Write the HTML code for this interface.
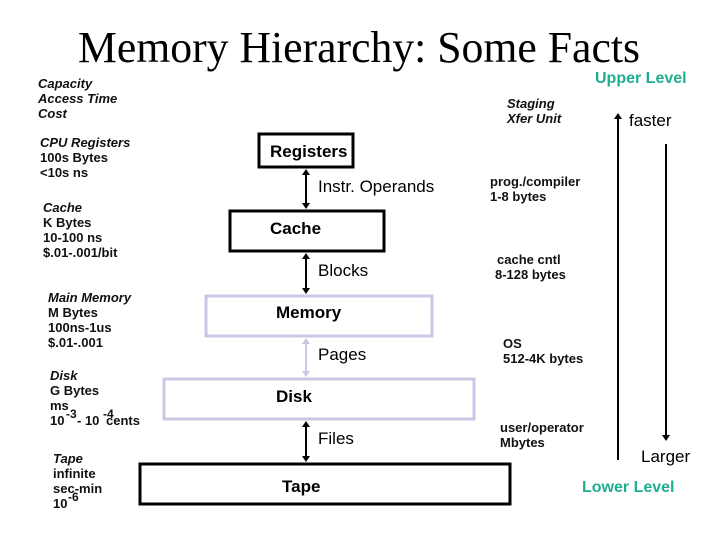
<!DOCTYPE html>
<html><head><meta charset="utf-8"><style>
html,body{margin:0;padding:0;background:#fff}
svg{display:block}
text{font-family:"Liberation Sans",sans-serif}
.s{font-size:13px;font-weight:bold;fill:#111}
.i{font-style:italic}
.b{font-size:17px;font-weight:bold}
.m{font-size:17px}
.g{fill:#20ae90;font-size:16px;font-weight:bold}
</style></head><body>
<svg width="720" height="540" viewBox="0 0 720 540" xmlns="http://www.w3.org/2000/svg">
<defs>
<marker id="a" markerWidth="6" markerHeight="8" refX="3" refY="4" orient="auto-start-reverse" markerUnits="userSpaceOnUse"><path d="M0,0 L6,4 L0,8z" fill="#000"/></marker>
<marker id="al" markerWidth="6" markerHeight="8" refX="3" refY="4" orient="auto-start-reverse" markerUnits="userSpaceOnUse"><path d="M0,0 L6,4 L0,8z" fill="#c8c8e6"/></marker>
</defs>
<text x="78" y="62" font-family="Liberation Serif,serif" font-size="44" textLength="562" lengthAdjust="spacingAndGlyphs" style="font-family:'Liberation Serif',serif">Memory Hierarchy: Some Facts</text>
<text x="595" y="83" class="g">Upper Level</text>
<text x="582" y="492" class="g">Lower Level</text>

<g class="s i"><text x="38" y="88">Capacity</text><text x="38" y="103">Access Time</text><text x="38" y="118">Cost</text></g>
<g class="s"><text x="40" y="147" font-style="italic">CPU Registers</text><text x="40" y="162">100s Bytes</text><text x="40" y="177">&lt;10s ns</text></g>
<g class="s"><text x="43" y="212" font-style="italic">Cache</text><text x="43" y="227">K Bytes</text><text x="43" y="242">10-100 ns</text><text x="43" y="257">$.01-.001/bit</text></g>
<g class="s"><text x="48" y="302" font-style="italic">Main Memory</text><text x="48" y="317">M Bytes</text><text x="48" y="332">100ns-1us</text><text x="48" y="347">$.01-.001</text></g>
<g class="s"><text x="50" y="380" font-style="italic">Disk</text><text x="50" y="395">G Bytes</text><text x="50" y="410">ms</text><text x="50" y="425">10</text><text x="66" y="418" font-size="12">-3</text><text x="77" y="425">- 10</text><text x="103" y="418" font-size="12">-4</text><text x="106" y="425">cents</text></g>
<g class="s"><text x="53" y="463" font-style="italic">Tape</text><text x="53" y="478">infinite</text><text x="53" y="493">sec-min</text><text x="53" y="508">10</text><text x="68" y="501" font-size="12">-6</text></g>

<g class="s i"><text x="507" y="108">Staging</text><text x="507" y="123">Xfer Unit</text></g>
<text x="629" y="126" class="m">faster</text>
<text x="641" y="462" class="m">Larger</text>
<g class="s"><text x="490" y="186">prog./compiler</text><text x="490" y="201">1-8 bytes</text>
<text x="497" y="264">cache cntl</text><text x="495" y="279">8-128 bytes</text>
<text x="503" y="348">OS</text><text x="503" y="363">512-4K bytes</text>
<text x="500" y="432">user/operator</text><text x="500" y="447">Mbytes</text></g>

<line x1="618" y1="460" x2="618" y2="116" stroke="#000" stroke-width="2" marker-end="url(#a)"/>
<line x1="666" y1="144" x2="666" y2="438" stroke="#000" stroke-width="2" marker-end="url(#a)"/>

<rect x="259" y="134" width="94" height="33" fill="none" stroke="#000" stroke-width="3"/>
<text x="270" y="157" class="b">Registers</text>
<rect x="230" y="211" width="154" height="40" fill="none" stroke="#000" stroke-width="3"/>
<text x="270" y="234" class="b">Cache</text>
<rect x="206" y="296" width="226" height="40" fill="none" stroke="#c8c8e6" stroke-width="3"/>
<text x="276" y="318" class="b">Memory</text>
<rect x="164" y="379" width="310" height="40" fill="none" stroke="#c8c8e6" stroke-width="3"/>
<text x="276" y="402" class="b">Disk</text>
<rect x="140" y="464" width="370" height="40" fill="none" stroke="#000" stroke-width="3"/>
<text x="282" y="492" class="b">Tape</text>

<line x1="306" y1="172" x2="306" y2="206" stroke="#000" stroke-width="2" marker-start="url(#a)" marker-end="url(#a)"/>
<text x="318" y="192" class="m">Instr. Operands</text>
<line x1="306" y1="256" x2="306" y2="291" stroke="#000" stroke-width="2" marker-start="url(#a)" marker-end="url(#a)"/>
<text x="318" y="276" class="m">Blocks</text>
<line x1="306" y1="341" x2="306" y2="374" stroke="#c8c8e6" stroke-width="2" marker-start="url(#al)" marker-end="url(#al)"/>
<text x="318" y="360" class="m">Pages</text>
<line x1="306" y1="424" x2="306" y2="459" stroke="#000" stroke-width="2" marker-start="url(#a)" marker-end="url(#a)"/>
<text x="318" y="444" class="m">Files</text>
</svg>
</body></html>
